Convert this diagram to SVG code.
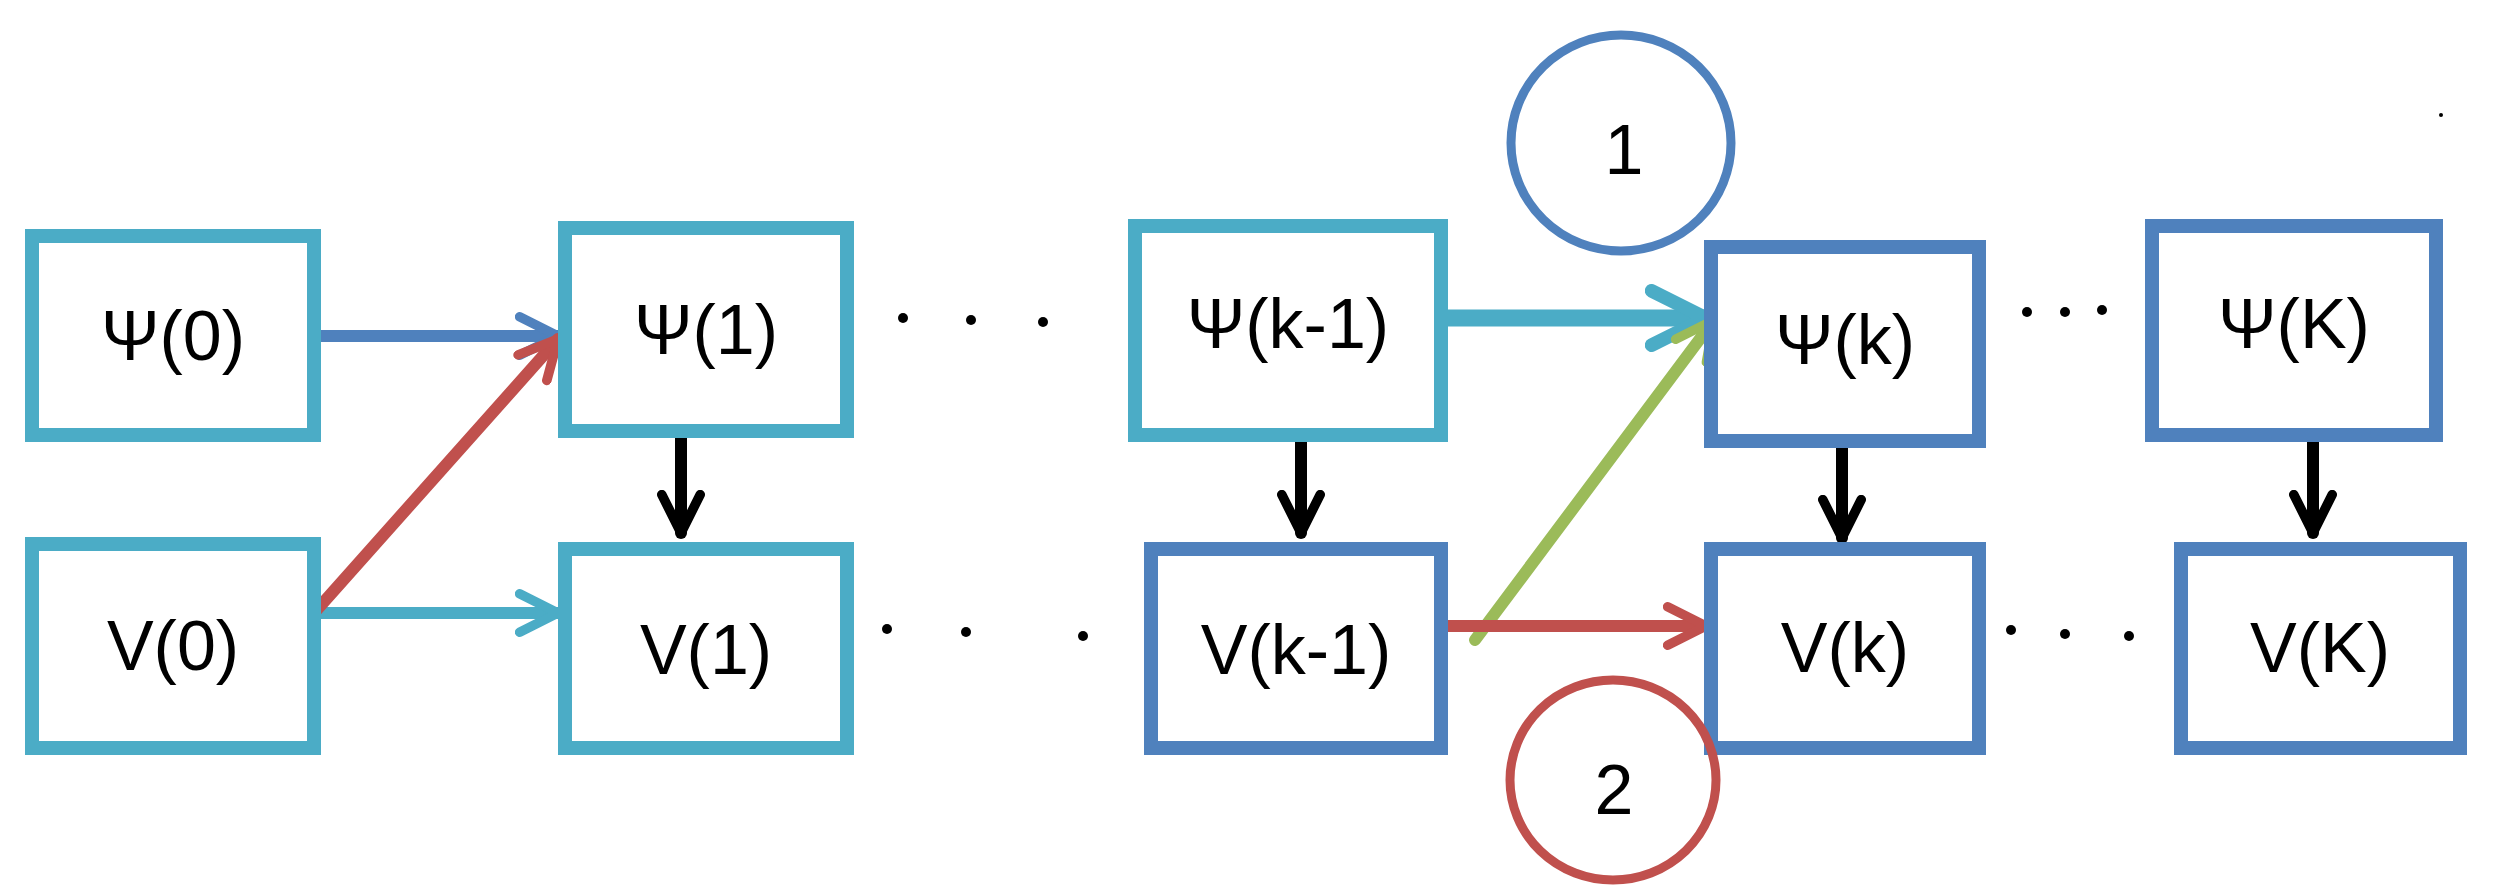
<svg xmlns="http://www.w3.org/2000/svg" width="2496" height="895" viewBox="0 0 2496 895">
<style>
.n{fill:#fff;stroke-width:14}
.c{stroke:#4bacc6}.b{stroke:#4f81bd}
text{font-family:"Liberation Sans",Arial,sans-serif;font-size:70px;fill:#000;text-anchor:middle;dominant-baseline:central}
.a{fill:none;stroke-width:12;stroke-linecap:round;stroke-linejoin:round}
</style>
<defs>
<marker id="hc" viewBox="0 0 10 10" refX="9" refY="5" markerWidth="4" markerHeight="4" orient="auto" markerUnits="strokeWidth"><path d="M1,1 L9,5 L1,9" fill="none" stroke="#4bacc6" stroke-width="2" stroke-linecap="round"/></marker>
<marker id="hb" viewBox="0 0 10 10" refX="9" refY="5" markerWidth="4" markerHeight="4" orient="auto" markerUnits="strokeWidth"><path d="M1,1 L9,5 L1,9" fill="none" stroke="#4f81bd" stroke-width="2" stroke-linecap="round"/></marker>
<marker id="hr" viewBox="0 0 10 10" refX="9" refY="5" markerWidth="4" markerHeight="4" orient="auto" markerUnits="strokeWidth"><path d="M1,1 L9,5 L1,9" fill="none" stroke="#c0504d" stroke-width="2" stroke-linecap="round"/></marker>
<marker id="hg" viewBox="0 0 10 10" refX="9" refY="5" markerWidth="4" markerHeight="4" orient="auto" markerUnits="strokeWidth"><path d="M1,1 L9,5 L1,9" fill="none" stroke="#9bbb59" stroke-width="2" stroke-linecap="round"/></marker>
<marker id="hk" viewBox="0 0 10 10" refX="9" refY="5" markerWidth="4" markerHeight="4" orient="auto" markerUnits="strokeWidth"><path d="M1,1 L9,5 L1,9" fill="none" stroke="#000" stroke-width="2" stroke-linecap="round"/></marker>
</defs>
<g id="connectors">
<path class="a" stroke="#4f81bd" d="M314,336 L558,336" marker-end="url(#hb)"/>
<path class="a" stroke="#4bacc6" d="M314,613 L558,613" marker-end="url(#hc)"/>
<path class="a" stroke="#c0504d" d="M314,613 L558,339" marker-end="url(#hr)"/>
<path class="a" stroke="#000" d="M681,400 L681,533" marker-end="url(#hk)"/>
<path class="a" stroke="#4bacc6" style="stroke-width:17" d="M1441,318 L1706,318" marker-end="url(#hc)"/>
<path class="a" stroke="#9bbb59" d="M1475,640 L1714,320" marker-end="url(#hg)"/>
<path class="a" stroke="#c0504d" d="M1441,626 L1706,626" marker-end="url(#hr)"/>
<path class="a" stroke="#000" d="M1301,400 L1301,533" marker-end="url(#hk)"/>
<path class="a" stroke="#000" d="M1842,444 L1842,538" marker-end="url(#hk)"/>
<path class="a" stroke="#000" d="M2313,437 L2313,533" marker-end="url(#hk)"/>
</g>
<g id="psi0"><rect class="n c" x="32" y="236" width="282" height="199"/><text x="173" y="336">Ψ(0)</text></g>
<g id="psi1"><rect class="n c" x="565" y="228" width="282" height="203"/><text x="706" y="330">Ψ(1)</text></g>
<g id="v0"><rect class="n c" x="32" y="544" width="282" height="204"/><text x="173" y="646">V(0)</text></g>
<g id="v1"><rect class="n c" x="565" y="549" width="282" height="199"/><text x="706" y="650">V(1)</text></g>
<g id="psik1"><rect class="n c" x="1135" y="226" width="306" height="209"/><text x="1288" y="324">Ψ(k-1)</text></g>
<g id="vk1"><rect class="n b" x="1151" y="549" width="290" height="199"/><text x="1296" y="650">V(k-1)</text></g>
<g id="psik"><rect class="n b" x="1711" y="247" width="268" height="194"/><text x="1845" y="340">Ψ(k)</text></g>
<g id="vk"><rect class="n b" x="1711" y="549" width="268" height="199"/><text x="1845" y="648">V(k)</text></g>
<g id="psiK"><rect class="n b" x="2152" y="226" width="284" height="209"/><text x="2294" y="324">Ψ(K)</text></g>
<g id="vK"><rect class="n b" x="2181" y="549" width="279" height="199"/><text x="2320" y="648">V(K)</text></g>
<g id="c1"><ellipse cx="1621" cy="143" rx="110" ry="108" fill="none" stroke="#4f81bd" stroke-width="9"/><text x="1624" y="150" font-size="84">1</text></g>
<g id="c2"><ellipse cx="1613" cy="780" rx="103" ry="100" fill="none" stroke="#c0504d" stroke-width="9"/><text x="1614" y="790" font-size="62">2</text></g>
<g id="dots" fill="#000">
<circle cx="903" cy="318" r="5"/><circle cx="971" cy="320" r="5"/><circle cx="1043" cy="322" r="5"/>
<circle cx="887" cy="629" r="5"/><circle cx="966" cy="632" r="5"/><circle cx="1083" cy="636" r="5"/>
<circle cx="2027" cy="312" r="5"/><circle cx="2065" cy="312" r="5"/><circle cx="2102" cy="310" r="5"/>
<circle cx="2011" cy="630" r="5"/><circle cx="2065" cy="634" r="5"/><circle cx="2129" cy="636" r="5"/>
<circle cx="2441" cy="115" r="2"/>
</g>
</svg>
